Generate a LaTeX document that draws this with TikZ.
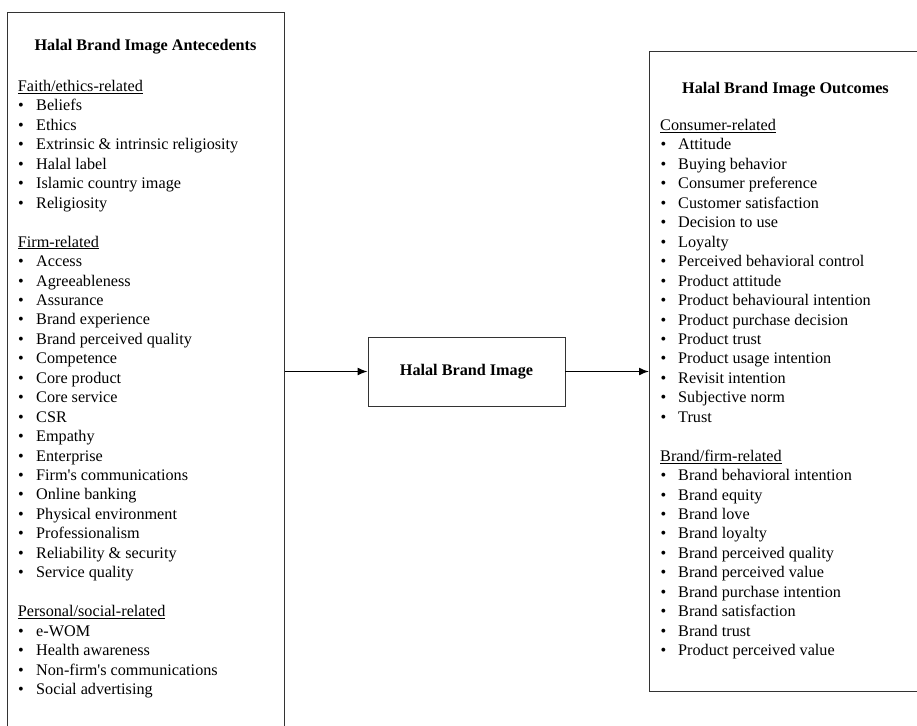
\documentclass[tikz,border=0pt]{standalone}
\usepackage{fontspec}
\setmainfont{Liberation Serif}
\usetikzlibrary{arrows.meta}
\tikzset{
  frame/.style={draw=black!80, line width=0.9pt, rectangle, inner sep=0pt},
  conn/.style={draw=black, line width=1.5pt, -{Latex[length=10pt,width=8pt]}},
  txt/.style={anchor=base west, inner sep=0pt, font=\fontsize{16.2}{19.45}\selectfont},
  ttl/.style={inner sep=0pt, font=\fontsize{16.2}{19.45}\selectfont\bfseries},
  bul/.style={anchor=base, inner sep=0pt, font=\fontsize{16.2}{19.45}\selectfont},
}
\newcommand{\hd}[1]{\underline{#1}}
\begin{document}
\begin{tikzpicture}[x=1pt,y=-1pt]
\useasboundingbox (0,0) rectangle (917,725);
\clip (0,0) rectangle (917,725);
\fill[white] (0,0) rectangle (917,725);
% boxes
\node[frame, anchor=north west, minimum width=276.7pt, minimum height=740pt] (ante) at (7.3,11.7) {};
\node[frame, anchor=north west, minimum width=273pt, minimum height=640.3pt] (outc) at (649,50.7) {};
\node[frame, minimum width=197pt, minimum height=69pt] (hbi) at (466.5,371.5) {};
\node[ttl] (hbit) at (466.5,371.5) {Halal Brand Image};
% titles
\node[ttl] (antt) at (145.5,47) {Halal Brand Image Antecedents};
\node[ttl] (outt) at (785.5,90) {Halal Brand Image Outcomes};
% left headings
\node[txt] (lh1) at (17.7,{86+5.5}) {\hd{Faith/ethics-related}};
\node[txt] (lh2) at (17.7,{86+19.45*8+5.5}) {\hd{Firm-related}};
\node[txt] (lh3) at (17.7,{86+19.45*27+5.5}) {\hd{Personal/social-related}};
\foreach \t [count=\i from 1] in {Beliefs,Ethics,Extrinsic \& intrinsic religiosity,Halal label,Islamic country image,Religiosity}{
  \node[bul] (lb1-\i) at (21,{86+19.45*\i+5.5}) {\textbullet};
  \node[txt] (li1-\i) at (36,{86+19.45*\i+5.5}) {\t};
}
\foreach \t [count=\i from 9] in {Access,Agreeableness,Assurance,Brand experience,Brand perceived quality,Competence,Core product,Core service,CSR,Empathy,Enterprise,Firm\textquotesingle s communications,Online banking,Physical environment,Professionalism,Reliability \& security,Service quality}{
  \node[bul] (lb2-\i) at (21,{86+19.45*\i+5.5}) {\textbullet};
  \node[txt] (li2-\i) at (36,{86+19.45*\i+5.5}) {\t};
}
\foreach \t [count=\i from 28] in {e-WOM,Health awareness,Non-firm\textquotesingle s communications,Social advertising}{
  \node[bul] (lb3-\i) at (21,{86+19.45*\i+5.5}) {\textbullet};
  \node[txt] (li3-\i) at (36,{86+19.45*\i+5.5}) {\t};
}
% right headings
\node[txt] (rh1) at (660,{125+5.5}) {\hd{Consumer-related}};
\node[txt] (rh2) at (660,{125+19.45*17+5.5}) {\hd{Brand/firm-related}};
\foreach \t [count=\i from 1] in {Attitude,Buying behavior,Consumer preference,Customer satisfaction,Decision to use,Loyalty,Perceived behavioral control,Product attitude,Product behavioural intention,Product purchase decision,Product trust,Product usage intention,Revisit intention,Subjective norm,Trust}{
  \node[bul] (rb1-\i) at (663.5,{125+19.45*\i+5.5}) {\textbullet};
  \node[txt] (ri1-\i) at (678,{125+19.45*\i+5.5}) {\t};
}
\foreach \t [count=\i from 18] in {Brand behavioral intention,Brand equity,Brand love,Brand loyalty,Brand perceived quality,Brand perceived value,Brand purchase intention,Brand satisfaction,Brand trust,Product perceived value}{
  \node[bul] (rb2-\i) at (663.5,{125+19.45*\i+5.5}) {\textbullet};
  \node[txt] (ri2-\i) at (678,{125+19.45*\i+5.5}) {\t};
}
% connectors
\draw[conn] (hbi.west -| ante.east) -- (hbi.west);
\draw[conn] (hbi.east) -- (hbi.east -| outc.west);
\end{tikzpicture}
\end{document}
